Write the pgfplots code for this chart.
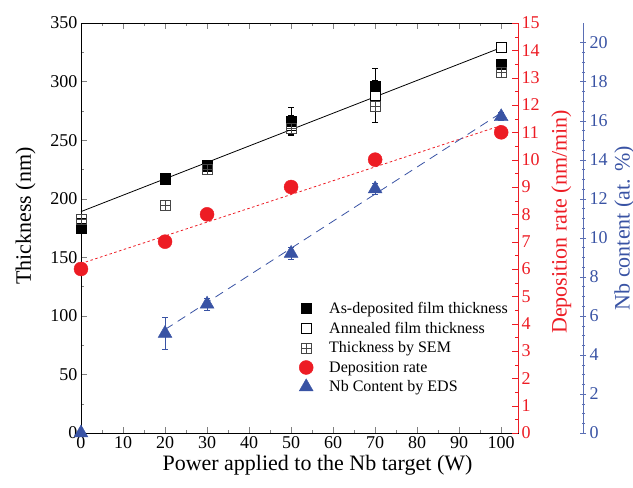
\documentclass[border=0pt]{standalone}
\usepackage{pgfplots}
\pgfplotsset{compat=1.18}
\usepackage{fontspec}
\setmainfont{Liberation Serif}
\definecolor{dred}{RGB}{237,28,36}
\definecolor{nbblue}{RGB}{57,83,164}
\definecolor{nbaxis}{RGB}{90,110,180}
\definecolor{semgray}{RGB}{70,70,70}

\pgfdeclareplotmark{gridsq}{%
  \pgfpathrectangle{\pgfqpoint{-\pgfplotmarksize}{-\pgfplotmarksize}}{\pgfqpoint{2\pgfplotmarksize}{2\pgfplotmarksize}}%
  \pgfpathmoveto{\pgfqpoint{-\pgfplotmarksize}{0pt}}\pgfpathlineto{\pgfqpoint{\pgfplotmarksize}{0pt}}%
  \pgfpathmoveto{\pgfqpoint{0pt}{-\pgfplotmarksize}}\pgfpathlineto{\pgfqpoint{0pt}{\pgfplotmarksize}}%
  \pgfusepathqstroke}

\pgfplotsset{
  base/.style={
    width=437pt, height=410pt, scale only axis,
    at={(0,0)}, anchor=south west,
    xmin=0, xmax=104,
    tick label style={font=\fontsize{18}{18}\selectfont},
    label style={font=\fontsize{22}{22}\selectfont},
    /pgf/number format/assume math mode=true,
    major tick length=6pt, minor tick length=3pt,
  },
}

\begin{document}
\begin{tikzpicture}
\useasboundingbox (-81pt,-55pt) rectangle (552pt,433pt);
% thickness, left axis
\begin{axis}[base,
  ymin=0, ymax=350,
  xtick={0,10,...,100}, minor x tick num=1,
  ytick={0,50,...,350}, minor y tick num=1,
  xtick pos=both, ytick pos=left,
  xlabel={Power applied to the Nb target (W)}, xlabel style={xshift=18pt},
  ylabel={Thickness (nm)}, ylabel shift=8pt, ylabel style={xshift=12pt},
  legend style={draw=none, fill=none, at={(0.492,0.329)}, anchor=north west,
    font=\fontsize{16}{16}\selectfont, row sep=3pt, column sep=14pt},
  legend cell align=left,
  error bars/error bar style={black, thick},
  error bars/error mark options={rotate=90, mark size=3pt, thick},
]
\addplot[black, thick, forget plot] coordinates {(0,189) (100,329)};
% annealed (drawn first, partly hidden)
\addplot[only marks, mark=square*, mark size=5pt, black, thick,
  mark options={fill=white}, forget plot,
  error bars/.cd, y dir=both, y explicit] coordinates {
  (0,179) +- (0,2) (20,217) +- (0,2) (30,228) +- (0,3)
  (50,263) +- (0,8) (70,288) +- (0,23) (100,329) +- (0,3)};
% as-deposited
\addplot[only marks, mark=square*, mark size=5pt, black,
  error bars/.cd, y dir=both, y explicit] coordinates {
  (0,175) +- (0,2) (20,217) +- (0,2) (30,229) +- (0,3)
  (50,266) +- (0,12) (70,296) +- (0,5) (100,315) +- (0,4)};
\addlegendentry{As-deposited film thickness}
\addlegendimage{only marks, mark=square*, mark size=5pt, black, thick, mark options={fill=white}}
\addlegendentry{Annealed film thickness}
% SEM
\addplot[only marks, mark=gridsq, mark size=5pt, semgray, thick] coordinates {
  (0,182) (20,194) (30,225) (50,260) (70,279) (100,308)};
\addlegendentry{Thickness by SEM}
\addlegendimage{only marks, mark=*, mark size=7pt, dred}
\addlegendentry{Deposition rate}
\addlegendimage{only marks, mark=triangle*, mark size=8pt, nbblue}
\addlegendentry{Nb Content by EDS}
\end{axis}
% deposition rate, red right axis
\begin{axis}[base,
  ymin=0, ymax=15,
  axis x line=none, axis y line*=right,
  ytick={0,1,...,15}, minor y tick num=1,
  y axis line style={dred, thick},
  ytick style={dred},
  yticklabel style={dred},
  ylabel={Deposition rate (nm/min)}, ylabel style={dred, xshift=6pt}, ylabel shift=5pt,
]
\addplot[dred, thick, dash pattern=on 2.5pt off 2.5pt] coordinates {(0,6.2) (100,11.25)};
\addplot[only marks, mark=*, mark size=7pt, dred] coordinates {
  (0,6.0) (20,7.0) (30,8.0) (50,9.0) (70,10.0) (100,11.0)};
\end{axis}
% Nb content data
\begin{axis}[base,
  ymin=0, ymax=21, axis lines=none,
  error bars/error bar style={nbblue, thick},
  error bars/error mark options={rotate=90, mark size=3pt, thick},
]
\addplot[nbblue, thick, dash pattern=on 9pt off 6pt] coordinates {(20,5.3) (100,16.4)};
\addplot[only marks, mark=triangle*, mark size=8pt, nbblue,
  error bars/.cd, y dir=both, y explicit] coordinates {
  (0,0) +- (0,0) (20,5.1) +- (0,0.8) (30,6.6) +- (0,0.3)
  (50,9.2) +- (0,0.3) (70,12.5) +- (0,0.3) (100,16.2) +- (0,0.2)};
\end{axis}
% Nb content, blue offset axis
\begin{axis}[base, at={(65pt,0)},
  ymin=0, ymax=21,
  axis x line=none, axis y line*=right,
  ytick={0,2,...,20}, minor y tick num=3,
  tick align=center,
  y axis line style={nbaxis, thick},
  ytick style={nbaxis},
  yticklabel style={nbblue},
  ylabel={Nb content (at. \%)}, ylabel style={nbblue},
]
\end{axis}
\end{tikzpicture}
\end{document}
